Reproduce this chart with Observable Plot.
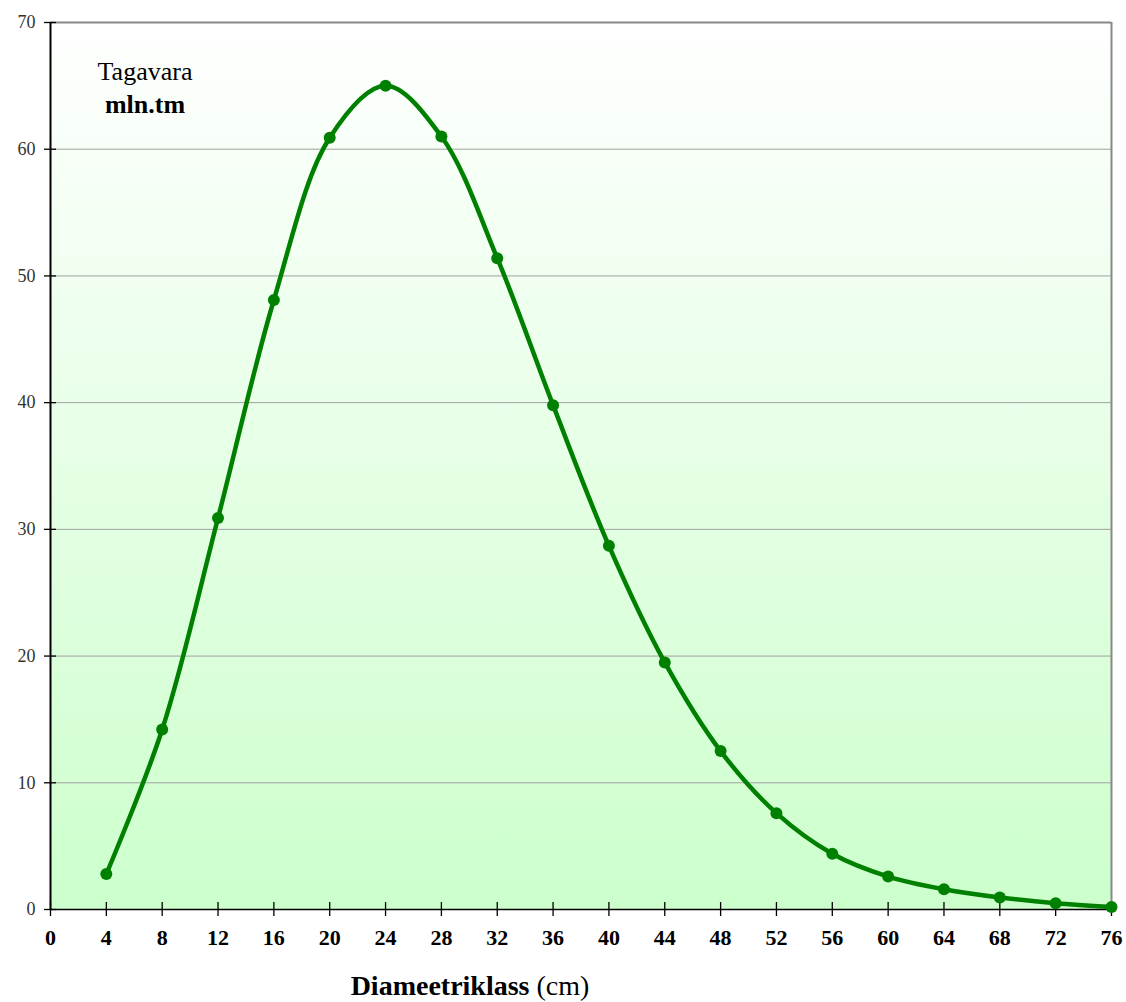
<!DOCTYPE html>
<html>
<head>
<meta charset="utf-8">
<script src="https://cdn.jsdelivr.net/npm/d3@7"></script>
<script src="https://cdn.jsdelivr.net/npm/@observablehq/plot@0.6"></script>
<style>
  body { margin: 0; background: #fff; }
  #chart svg { display: block; }
</style>
</head>
<body>
<div id="chart"></div>
<script>
const diameters = [4, 8, 12, 16, 20, 24, 28, 32, 36, 40, 44, 48, 52, 56, 60, 64, 68, 72, 76];
const volumes = [2.8, 14.2, 30.9, 48.1, 60.9, 65.0, 61.0, 51.4, 39.8, 28.7, 19.5, 12.5, 7.6, 4.4, 2.6, 1.6, 0.95, 0.5, 0.2];
const xTicks = d3.range(0, 77, 4);
const yTicks = [0, 10, 20, 30, 40, 50, 60, 70];
const yGrid = [10, 20, 30, 40, 50, 60];
const seriesLabel = ["Tagavara", "mln.tm"];
const axisLabel = ["Diameetriklass", " (cm)"];

const data = diameters.map((d, i) => ({d, v: volumes[i]}));
const font = "'Liberation Serif', 'DejaVu Serif', serif";

const chart = Plot.plot({
  width: 1126,
  height: 1002,
  marginTop: 22,
  marginBottom: 93,
  marginLeft: 50,
  marginRight: 15,
  style: {fontFamily: font, fontSize: "18px", background: "#fff", overflow: "visible"},
  x: {type: "linear", domain: [0, 76], label: null},
  y: {type: "linear", domain: [0, 70], label: null},
  marks: [
    Plot.frame({fill: "url(#bggrad)", stroke: null}),
    Plot.ruleY(yGrid, {stroke: "#a0a0a0", strokeWidth: 1}),
    Plot.ruleY([70], {stroke: "#888", strokeWidth: 2}),
    Plot.ruleX([76], {stroke: "#888", strokeWidth: 2}),
    Plot.ruleX([0], {stroke: "#000", strokeWidth: 2}),
    Plot.ruleY([0], {stroke: "#000", strokeWidth: 1.5}),
    Plot.ruleY(yTicks, {x1: 0, x2: 0.43, stroke: "#000", strokeWidth: 1.3}),
    Plot.ruleX(xTicks, {y1: 0, y2: 0.55, stroke: "#000", strokeWidth: 1.3}),
    Plot.axisY({ticks: yTicks, tickSize: 6, tickPadding: 9, fill: "#333", stroke: "#000", strokeWidth: 1.3, label: null}),
    Plot.axisX({ticks: xTicks, tickSize: 7, tickPadding: 13, fill: "#000", stroke: "#000", strokeWidth: 1.3, label: null}),
    Plot.line(data, {x: "d", y: "v", curve: "catmull-rom", stroke: "#008000", strokeWidth: 4.5}),
    Plot.dot(data, {x: "d", y: "v", r: 6, fill: "#008000", stroke: "none"})
  ]
});

const svg = d3.select(chart);
const defs = svg.insert("defs", ":first-child");
const grad = defs.append("linearGradient").attr("id", "bggrad")
  .attr("x1", 0).attr("y1", 0).attr("x2", 0).attr("y2", 1);
grad.append("stop").attr("offset", "0%").attr("stop-color", "#ffffff");
grad.append("stop").attr("offset", "100%").attr("stop-color", "#ccffcc");

svg.selectAll("[aria-label='x-axis tick label'] text")
  .style("font-size", "22px").style("font-weight", "bold");

const lbl = svg.append("text").attr("font-family", font).style("font-size", "26px").attr("text-anchor", "middle").attr("fill", "#000");
lbl.append("tspan").attr("x", 145).attr("y", 80).text(seriesLabel[0]);
lbl.append("tspan").attr("x", 145).attr("y", 113).attr("font-weight", "bold").text(seriesLabel[1]);

const at = svg.append("text").attr("font-family", font).style("font-size", "28px").attr("text-anchor", "middle").attr("fill", "#000")
  .attr("x", 470).attr("y", 995);
at.append("tspan").attr("font-weight", "bold").text(axisLabel[0]);
at.append("tspan").text(axisLabel[1]);

document.getElementById("chart").appendChild(chart);
</script>
</body>
</html>
